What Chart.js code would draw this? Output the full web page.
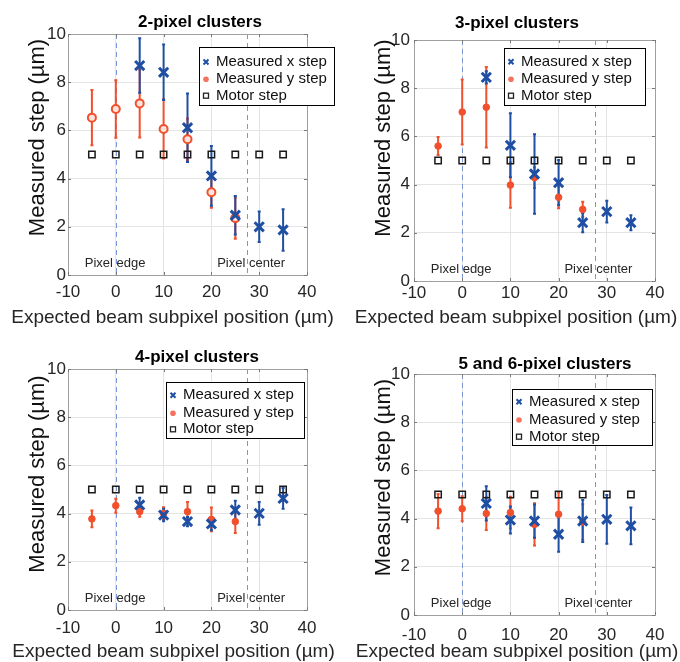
<!DOCTYPE html>
<html>
<head>
<meta charset="utf-8">
<script src="https://cdn.jsdelivr.net/npm/chart.js@4.4.1/dist/chart.umd.min.js"></script>
<style>
  body { margin: 0; background: #fff; width: 680px; height: 662px; position: relative; overflow: hidden; }
  canvas { position: absolute; }
</style>
</head>
<body>
<canvas id="c1" width="340" height="331" style="left:0;top:0"></canvas>
<canvas id="c2" width="340" height="331" style="left:340px;top:0"></canvas>
<canvas id="c3" width="340" height="331" style="left:0;top:331px"></canvas>
<canvas id="c4" width="340" height="331" style="left:340px;top:331px"></canvas>
<script>
// beam positions (µm) and tick labels
const positions = [-5, 0, 5, 10, 15, 20, 25, 30, 35];
const motorStep = [5, 5, 5, 5, 5, 5, 5, 5, 5];
const xTicks = [-10, 0, 10, 20, 30, 40];
const yTicks = [0, 2, 4, 6, 8, 10];

// 2-pixel clusters
const xStep2 = [null, null, 8.69, 8.41, 6.11, 4.11, 2.48, 2.00, 1.87];
const xErr2  = [null, null, 1.13, 1.15, 1.42, 1.24, 0.80, 0.63, 0.86];
const yStep2 = [6.53, 6.89, 7.12, 6.06, 5.63, 3.43, 2.36, null, null];
const yErr2  = [1.15, 1.19, 1.41, 1.23, 0.86, 0.64, 0.86, null, null];

// 3-pixel clusters
const xStep3 = [null, null, 8.45, 5.63, 4.44, 4.08, 2.42, 2.88, 2.42];
const xErr3  = [null, null, 0.25, 1.33, 1.65, 0.94, 0.40, 0.45, 0.31];
const yStep3 = [5.60, 7.01, 7.21, 3.98, 4.29, 3.47, 2.97, null, null];
const yErr3  = [0.37, 1.35, 1.67, 0.94, 0.43, 0.45, 0.32, null, null];

// 4-pixel clusters
const xStep4 = [null, null, 4.36, 3.94, 3.67, 3.57, 4.15, 4.01, 4.63];
const xErr4  = [null, null, 0.30, 0.26, 0.19, 0.26, 0.38, 0.47, 0.43];
const yStep4 = [3.78, 4.33, 4.08, 4.01, 4.08, 3.76, 3.67, null, null];
const yErr4  = [0.35, 0.29, 0.21, 0.25, 0.40, 0.49, 0.47, null, null];

// 5 and 6-pixel clusters
const xStep5 = [null, null, 4.63, 3.94, 3.90, 3.35, 3.90, 3.97, 3.70];
const xErr5  = [null, null, 0.71, 0.56, 0.69, 0.73, 0.87, 1.01, 0.76];
const yStep5 = [4.31, 4.41, 4.21, 4.25, 3.76, 4.18, 3.86, null, null];
const yErr5  = [0.71, 0.52, 0.68, 0.66, 0.88, 0.90, 0.74, null, null];

const BLUE = '#1f4fa3';
const RED = '#f2502d';
const FONT = '"Liberation Sans", Arial, sans-serif';

const toPoints = vals => positions.map((p, i) => ({x: p, y: vals[i]})).filter(d => d.y !== null);

const decor = {
  id: 'decor',
  beforeDatasetsDraw(chart, args, o) {
    const {ctx, chartArea: a, scales: {x, y}} = chart;
    ctx.save();
    // pixel edge / pixel center markers
    ctx.strokeStyle = '#7a96d6';
    ctx.lineWidth = 1;
    ctx.setLineDash([5, 4]);
    [0, 27.5].forEach(v => {
      const px = Math.round(x.getPixelForValue(v)) + 0.5;
      ctx.beginPath(); ctx.moveTo(px, a.top); ctx.lineTo(px, a.bottom); ctx.stroke();
    });
    ctx.setLineDash([]);
    ctx.font = '13px ' + FONT;
    ctx.fillStyle = '#262626';
    ctx.textBaseline = 'middle';
    ctx.textAlign = 'left';
    ctx.fillText('Pixel edge', x.getPixelForValue(-6.5), y.getPixelForValue(0.5));
    ctx.fillText('Pixel center', x.getPixelForValue(21.2), y.getPixelForValue(0.5));
    // error bars
    o.bars.forEach(b => {
      ctx.strokeStyle = b.color;
      ctx.lineWidth = 2;
      positions.forEach((p, i) => {
        if (b.vals[i] === null) return;
        const px = x.getPixelForValue(p);
        const y1 = y.getPixelForValue(b.vals[i] + b.errs[i]);
        const y2 = y.getPixelForValue(b.vals[i] - b.errs[i]);
        ctx.beginPath();
        ctx.moveTo(px, y1); ctx.lineTo(px, y2);
        ctx.moveTo(px - 1.5, y1); ctx.lineTo(px + 1.5, y1);
        ctx.moveTo(px - 1.5, y2); ctx.lineTo(px + 1.5, y2);
        ctx.stroke();
      });
    });
    ctx.restore();
  },
  afterDraw(chart, args, o) {
    const {ctx, chartArea: a, scales: {x, y}} = chart;
    ctx.save();
    // axes box with inner ticks
    ctx.strokeStyle = '#a0a0a0';
    ctx.lineWidth = 1;
    ctx.strokeRect(Math.round(a.left) + 0.5, Math.round(a.top) + 0.5,
      Math.round(a.right - a.left), Math.round(a.bottom - a.top));
    ctx.strokeStyle = '#7a7a7a';
    ctx.beginPath();
    xTicks.forEach(v => {
      const px = Math.round(x.getPixelForValue(v)) + 0.5;
      ctx.moveTo(px, a.bottom); ctx.lineTo(px, a.bottom - 3);
      ctx.moveTo(px, a.top); ctx.lineTo(px, a.top + 3);
    });
    yTicks.forEach(v => {
      const py = Math.round(y.getPixelForValue(v)) + 0.5;
      ctx.moveTo(a.left, py); ctx.lineTo(a.left + 3, py);
      ctx.moveTo(a.right, py); ctx.lineTo(a.right - 3, py);
    });
    ctx.stroke();
    // title
    ctx.fillStyle = '#000';
    ctx.font = 'bold 17px ' + FONT;
    ctx.textAlign = 'center';
    ctx.textBaseline = 'middle';
    ctx.fillText(o.title, o.titleX, o.titleY);
    // axis titles
    ctx.fillStyle = '#262626';
    ctx.font = '19px ' + FONT;
    ctx.fillText('Expected beam subpixel position (µm)', o.xTitle[0], o.xTitle[1]);
    ctx.save();
    ctx.translate(o.yTitle[0], o.yTitle[1]);
    ctx.rotate(-Math.PI / 2);
    ctx.fillStyle = '#111';
    ctx.font = '22px ' + FONT;
    ctx.fillText('Measured step (µm)', 0, 0);
    ctx.restore();
    // legend
    const L = o.legend;
    ctx.fillStyle = '#fff';
    ctx.fillRect(L.x, L.y, L.w, L.h);
    ctx.strokeStyle = '#000';
    ctx.lineWidth = 1;
    ctx.strokeRect(Math.round(L.x) + 0.5, Math.round(L.y) + 0.5, Math.round(L.w), Math.round(L.h));
    const mx = L.x + 7, tx = L.x + 17;
    ctx.strokeStyle = BLUE; ctx.lineWidth = 2;
    ctx.beginPath();
    ctx.moveTo(mx - 2.5, L.rows[0] - 2.5); ctx.lineTo(mx + 2.5, L.rows[0] + 2.5);
    ctx.moveTo(mx + 2.5, L.rows[0] - 2.5); ctx.lineTo(mx - 2.5, L.rows[0] + 2.5);
    ctx.stroke();
    ctx.fillStyle = '#f3735e';
    ctx.beginPath(); ctx.arc(mx, L.rows[1], 2.8, 0, Math.PI * 2); ctx.fill();
    ctx.strokeStyle = '#222'; ctx.lineWidth = 1.3;
    ctx.strokeRect(mx - 2.5, L.rows[2] - 2.5, 5, 5);
    ctx.fillStyle = '#111';
    ctx.font = '15px ' + FONT;
    ctx.textAlign = 'left';
    ctx.fillText('Measured x step', tx, L.rows[0]);
    ctx.fillText('Measured y step', tx, L.rows[1]);
    ctx.fillText('Motor step', tx, L.rows[2]);
    ctx.restore();
  }
};

function makePanel(id, title, xs, xe, ys, ye, g, hollow) {
  new Chart(document.getElementById(id), {
    type: 'scatter',
    data: {
      datasets: [
        {label: 'Motor step', data: toPoints(motorStep), pointStyle: 'rect', radius: 4.5,
         borderColor: '#1a1a1a', backgroundColor: 'rgba(255,255,255,0)', borderWidth: 1.5},
        {label: 'Measured x step', data: toPoints(xs), pointStyle: 'crossRot', radius: 6.5,
         borderColor: BLUE, backgroundColor: BLUE, borderWidth: 3},
        {label: 'Measured y step', data: toPoints(ys), pointStyle: 'circle', radius: hollow ? 4 : 3.3,
         borderColor: RED, backgroundColor: hollow ? '#fde3dc' : RED, borderWidth: hollow ? 2 : 1}
      ]
    },
    options: {
      responsive: false,
      animation: false,
      events: [],
      layout: {padding: {left: 0, top: g.t, right: 340 - g.r, bottom: 0}},
      plugins: {
        legend: {display: false},
        tooltip: {enabled: false},
        decor: {
          title: title, titleX: g.titleX, titleY: g.titleY, legend: g.legend,
          xTitle: g.xTitle, yTitle: g.yTitle,
          bars: [{vals: ys, errs: ye, color: RED}, {vals: xs, errs: xe, color: BLUE}]
        }
      },
      scales: {
        x: {
          type: 'linear', min: -10, max: 40,
          afterBuildTicks: s => { s.ticks = xTicks.map(v => ({value: v})); },
          afterFit: s => { s.height = 331 - g.b; },
          grid: {color: '#e4e4e4', drawTicks: false},
          border: {display: false},
          ticks: {color: '#262626', padding: g.xTickPad, font: {family: FONT, size: 17, lineHeight: 1.2}}
        },
        y: {
          type: 'linear', min: 0, max: 10,
          afterBuildTicks: s => { s.ticks = yTicks.map(v => ({value: v})); },
          afterFit: s => { s.width = g.l; },
          grid: {color: '#e4e4e4', drawTicks: false},
          border: {display: false},
          ticks: {color: '#262626', padding: g.yTickPad, font: {family: FONT, size: 17}}
        }
      }
    },
    plugins: [decor]
  });
}

makePanel('c1', '2-pixel clusters', xStep2, xErr2, yStep2, yErr2, {
  l: 68, r: 307, t: 34, b: 275, titleX: 200, titleY: 22,
  xTickPad: 6.8, yTickPad: 2, xTitle: [172.5, 318], yTitle: [37.5, 137.5],
  legend: {x: 199, y: 47, w: 135, h: 58, rows: [62, 79.3, 95.7]}
}, true);
makePanel('c2', '3-pixel clusters', xStep3, xErr3, yStep3, yErr3, {
  l: 74, r: 315, t: 40, b: 281, titleX: 177, titleY: 23,
  xTickPad: 1.8, yTickPad: 4, xTitle: [176, 318], yTitle: [43.5, 138],
  legend: {x: 164, y: 48, w: 141, h: 57, rows: [61.7, 79.3, 95.7]}
}, false);
makePanel('c3', '4-pixel clusters', xStep4, xErr4, yStep4, yErr4, {
  l: 68, r: 307, t: 38, b: 279, titleX: 197, titleY: 26,
  xTickPad: 8.5, yTickPad: 2, xTitle: [173.5, 321], yTitle: [38, 143],
  legend: {x: 166, y: 51, w: 138, h: 56, rows: [64.3, 82.3, 98.3]}
}, false);
makePanel('c4', '5 and 6-pixel clusters', xStep5, xErr5, yStep5, yErr5, {
  l: 74, r: 315, t: 43, b: 284, titleX: 205, titleY: 33,
  xTickPad: 9.8, yTickPad: 4, xTitle: [177, 321], yTitle: [43.5, 146.5],
  legend: {x: 172, y: 58, w: 140, h: 56, rows: [70.7, 89, 105.7]}
}, false);
</script>
</body>
</html>
